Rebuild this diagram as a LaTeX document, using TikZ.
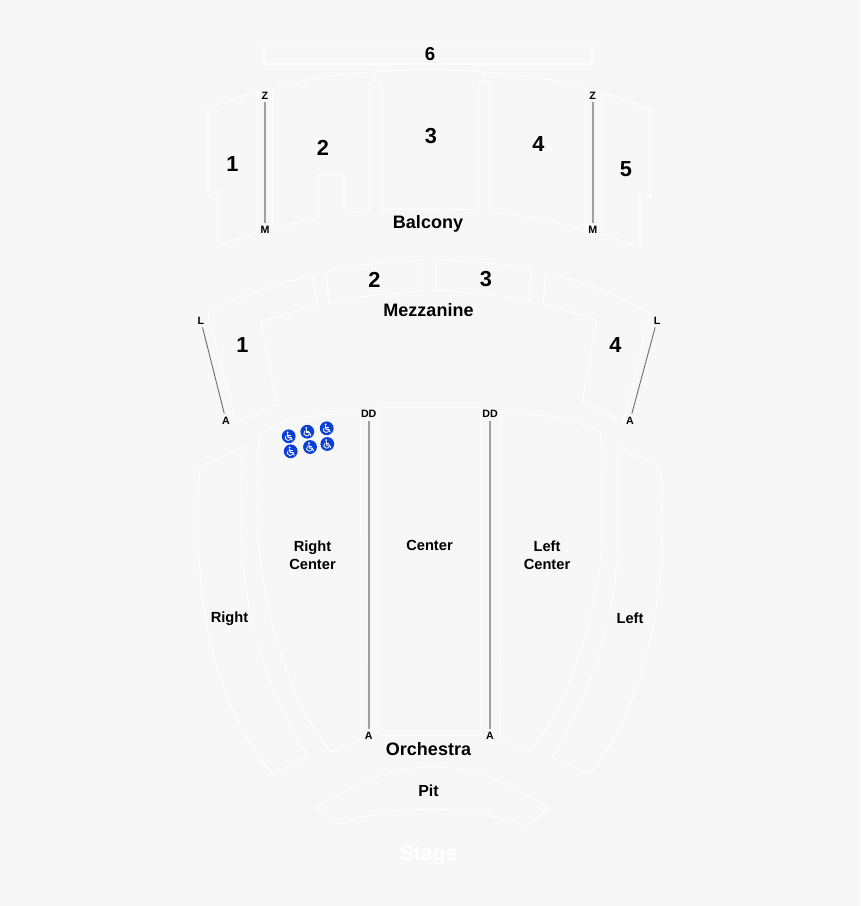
\documentclass[tikz,border=0pt]{standalone}
\usepackage{fontspec}
\setmainfont{Liberation Sans}
\definecolor{bgc}{HTML}{F7F7F7}
\definecolor{seat}{HTML}{FDFDFD}
\definecolor{aisle}{HTML}{A0A0A0}
\definecolor{wblue}{HTML}{0B3FD6}
\tikzset{
  seatarea/.style={draw=seat,line width=.85pt,line join=miter},
  aisleline/.style={draw=aisle,line width=1.2pt},
  slantline/.style={draw=aisle!70!black,line width=.7pt},
  num/.style={anchor=base,inner sep=0pt,font=\fontsize{16.3}{18}\selectfont\bfseries,text=black},
  sec/.style={anchor=base,inner sep=0pt,font=\fontsize{13.5}{16}\selectfont\bfseries,text=black},
  area/.style={anchor=center,inner sep=0pt,align=center,font=\fontsize{11}{13.5}\selectfont\bfseries,text=black},
  endlabel/.style={anchor=center,inner sep=2.2pt,font=\fontsize{8}{9}\selectfont\bfseries,text=black},
  wheel/.pic={
    \fill[wblue] (0,0) circle (6.9);
    \fill[white] (-1.1,-3.9) circle (1);
    \draw[white,line width=.75pt,line cap=round,line join=round] (-1.1,-2.4) -- (-.8,1) -- (2.2,1) -- (3.4,3.8);
    \draw[white,line width=.6pt] (-.9,-.8) -- (1.9,-.8);
    \draw[white,line width=.6pt] (-2.6,-.6) .. controls (-4.6,.8) and (-3.4,4.3) .. (-.8,4.2) .. controls (.8,4.1) and (1.7,3.2) .. (2,2.2);
  }
}
\begin{document}
\begin{tikzpicture}[x=.75pt,y=-.75pt]
\useasboundingbox (0,0) rectangle (860,906);
\fill[bgc] (0,0) rectangle (860,906);

% Balcony
\draw[seatarea] (264,42.5) rectangle (592,64);
\draw[seatarea] (207.7,107.7) .. controls (224,102) and (241,97) .. (257.3,92.3) -- (257.3,233.3) -- (219,245.7) -- (219,191.3) -- (207.7,195.7) -- cycle;
\draw[seatarea] (272.7,89) .. controls (305,79) and (340,74) .. (374.3,72.3) -- (374.3,82.3) -- (369,82.3) -- (369,210) -- (344.3,213.3) -- (344.3,174.7) -- (318.3,174.7) -- (318.3,217.3) -- (272.7,229.3) -- cycle;
\draw[seatarea] (374.3,72.3) .. controls (405,69) and (453,69) .. (484.3,72.3) -- (484.3,82.3) -- (479,82.3) -- (479,210.3) .. controls (447,208.7) and (413,208.7) .. (381.7,209.3) -- (381.7,82.3) -- (374.3,82.3) -- cycle;
\draw[seatarea] (484.3,72.3) .. controls (520,74) and (555,79) .. (585.7,89) -- (585.7,230.7) .. controls (555,221) and (522,215) .. (491,211.7) -- (491,82.3) -- (484.3,82.3) -- cycle;
\draw[seatarea] (601.7,93.3) .. controls (618,98) and (634,103) .. (650.3,110) -- (650.3,197.3) -- (639.7,193.3) -- (639.7,247.3) -- (601.7,234) -- cycle;

% Mezzanine
\draw[seatarea] (207.7,313.3) .. controls (240,295) and (277,283) .. (313.3,275.7) -- (317.3,306) .. controls (297,310) and (278,316) .. (261,323.3) -- (277.3,404) -- (236,422.3) -- cycle;
\draw[seatarea] (326.3,271.7) .. controls (357,265) and (390,261) .. (421.7,260) -- (422.3,291.7) .. controls (390,292) and (359,296) .. (329,303.3) -- cycle;
\draw[seatarea] (436,260) .. controls (468,260) and (500,263) .. (531.7,269.3) -- (529.7,301) .. controls (499,295) and (467,291.5) .. (436,291) -- cycle;
\draw[seatarea] (545.7,273.3) .. controls (582,282) and (618,295) .. (650,313.3) -- (623.3,422.3) -- (582.3,402) -- (596.7,321) .. controls (580,314) and (562,308) .. (543.3,304) -- cycle;

% Orchestra
\draw[seatarea] (378.3,407.7) rectangle (480.7,735.7);
\draw[seatarea] (260,433.3) .. controls (285,418) and (320,413.3) .. (360.7,413.3) -- (361,740) -- (331,752) .. controls (290,705) and (258,600) .. (258,520) .. controls (257,490) and (258,460) .. (260,433.3) -- cycle;
\draw[seatarea] (500.7,413.3) .. controls (540,413.3) and (575,418) .. (600.7,432.3) .. controls (602,460) and (603,490) .. (603,520) .. controls (603,600) and (570,705) .. (529.3,751.7) -- (500,740) -- cycle;
\draw[seatarea] (200,466.7) -- (242.3,447.3) .. controls (241,470) and (241,495) .. (241,525) .. controls (241,610) and (270,700) .. (309,756.7) -- (272.3,774) .. controls (230,725) and (198,640) .. (198,525) .. controls (198,505) and (198,485) .. (200,466.7) -- cycle;
\draw[seatarea] (618.3,446.7) -- (660,466.7) .. controls (662,490) and (662,510) .. (662,530) .. controls (662,640) and (630,725) .. (589.3,774) -- (551.7,756.7) .. controls (590,700) and (619,610) .. (619,525) .. controls (619,495) and (619,470) .. (618.3,446.7) -- cycle;

% Pit
\draw[seatarea] (317.3,808.3) .. controls (350,783) and (395,766.7) .. (432,766.7) .. controls (470,766.7) and (510,781) .. (546.7,808.3) -- (527.3,826) .. controls (497,815) and (465,809.3) .. (432,809.3) .. controls (400,809.3) and (368,814) .. (337.7,824.3) -- cycle;

% Row labels and aisle lines
\node[endlabel] (zl) at (265,95.5) {Z};
\node[endlabel] (ml) at (265,229.5) {M};
\node[endlabel] (zr) at (592.7,95.5) {Z};
\node[endlabel] (mr) at (592.7,229.5) {M};
\node[endlabel] (ll) at (200.8,320.5) {L};
\node[endlabel] (al) at (226,420.5) {A};
\node[endlabel] (lr) at (657,320.5) {L};
\node[endlabel] (ar) at (630,420.5) {A};
\node[endlabel] (ddl) at (368.7,413.7) {DD};
\node[endlabel] (adl) at (368.7,736) {A};
\node[endlabel] (ddr) at (490,413.7) {DD};
\node[endlabel] (adr) at (490,736) {A};
\draw[aisleline] (zl) -- (ml);
\draw[aisleline] (zr) -- (mr);
\draw[aisleline] (ddl) -- (adl);
\draw[aisleline] (ddr) -- (adr);
\draw[slantline] (ll) -- (al);
\draw[slantline] (lr) -- (ar);

% Section numbers
\node[num] (n6) at (430,60.7) {\fontsize{14}{16}\selectfont 6};
\node[num] (b1) at (232.5,171.7) {1};
\node[num] (b2) at (323,155.7) {2};
\node[num] (b3) at (431,143.3) {3};
\node[num] (b4) at (538.5,151) {4};
\node[num] (b5) at (626,176.7) {5};
\node[num] (m1) at (242.5,352.7) {1};
\node[num] (m2) at (374.5,287.3) {2};
\node[num] (m3) at (486,286.5) {3};
\node[num] (m4) at (615.5,352.7) {4};

% Level names
\node[sec] (balcony) at (428,228.3) {Balcony};
\node[sec] (mezz) at (428.5,316) {Mezzanine};
\node[sec] (orch) at (428.5,755) {Orchestra};
\node[sec,font=\fontsize{12}{14}\selectfont\bfseries] (pit) at (428.5,796) {Pit};
\node[sec,font=\fontsize{15.8}{18}\selectfont\bfseries,text=white] (stage) at (428.5,860.7) {Stage};

% Area names
\node[area] (rc) at (312.5,555) {Right\\Center};
\node[area] (cen) at (429.5,545.5) {Center};
\node[area] (lc) at (547,555) {Left\\Center};
\node[area] (rgt) at (229.5,619) {Right};
\node[area] (lft) at (630,618) {Left};

% Wheelchair places
\pic at (288.7,436.3) {wheel};
\pic at (307.3,431.7) {wheel};
\pic at (326.7,428.3) {wheel};
\pic at (290.7,451.3) {wheel};
\pic at (310,447) {wheel};
\pic at (327.3,444) {wheel};
\end{tikzpicture}
\end{document}
